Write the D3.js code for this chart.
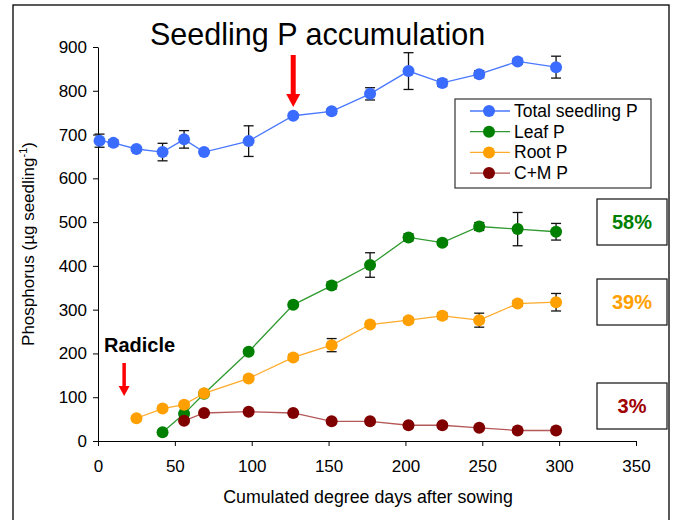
<!DOCTYPE html>
<html>
<head>
<meta charset="utf-8">
<script src="https://cdn.jsdelivr.net/npm/d3@7"></script>
<style>
  body { margin: 0; background: #fff; }
  svg { display: block; font-family: "Liberation Sans", Arial, sans-serif; }
  .axis text { font-size: 17px; fill: #000; }
  .axis path, .axis line { stroke: #000; }
</style>
</head>
<body>
<div id="chart"></div>
<script>
// data
const totalDays = [1, 10, 25, 42, 56, 69, 98, 127, 152, 177, 202, 224, 248, 273, 298];
const totalP    = [686, 681, 667, 660, 689, 660, 685, 743, 753, 793, 845, 818, 838, 867, 854];
const totalErr  = [15, 7, 5, 20, 20, 4, 35, 5, 6, 14, 42, 8, 8, 6, 25];

const leafDays = [42, 56, 69, 98, 127, 152, 177, 202, 224, 248, 273, 298];
const leafP    = [20, 62, 108, 204, 311, 355, 402, 465, 453, 490, 484, 478];
const leafErr  = [3, 4, 4, 5, 5, 8, 28, 8, 6, 9, 38, 19];

const rootDays = [25, 42, 56, 69, 98, 127, 152, 177, 202, 224, 248, 273, 298];
const rootP    = [52, 74, 83, 109, 143, 191, 219, 266, 276, 286, 276, 314, 317];
const rootErr  = [3, 3, 4, 4, 5, 6, 15, 5, 6, 7, 16, 6, 20];

const cmDays = [56, 69, 98, 127, 152, 177, 202, 224, 248, 273, 298];
const cmP    = [46, 64, 67, 64, 45, 45, 36, 36, 30, 24, 24];
const cmErr  = [3, 3, 3, 3, 3, 3, 3, 3, 3, 3, 3];

const seriesNames = ["Total seedling P", "Leaf P", "Root P", "C+M P"];
const markerColors = ["#3a6cff", "#008000", "#ffa000", "#800000"];
const lineColors = ["#4a78ff", "#2f9a2f", "#ffaa2a", "#b55858"];

const xTicks = [0, 50, 100, 150, 200, 250, 300, 350];
const yTicks = [0, 100, 200, 300, 400, 500, 600, 700, 800, 900];

const shares = ["58%", "39%", "3%"];
const shareColors = ["#008000", "#ffa000", "#a00000"];

const w = 675, h = 520;

const svg = d3.select("#chart")
  .append("svg")
  .attr("width", w)
  .attr("height", h);

svg.append("rect")
  .attr("x", 13).attr("y", 5)
  .attr("width", 656).attr("height", 530)
  .attr("fill", "#fff")
  .attr("stroke", "#000")
  .attr("stroke-width", 1.3);

const xScale = d3.scaleLinear().domain([0, 350]).range([98, 636]);
const yScale = d3.scaleLinear().domain([0, 900]).range([441, 47]);

const xAxis = d3.axisBottom(xScale)
  .tickValues(xTicks)
  .tickSizeInner(5)
  .tickSizeOuter(0)
  .tickPadding(14);

const yAxis = d3.axisLeft(yScale)
  .tickValues(yTicks)
  .tickSizeInner(5)
  .tickSizeOuter(0)
  .tickPadding(6);

svg.append("g")
  .attr("class", "axis")
  .attr("transform", "translate(0," + yScale(0) + ")")
  .call(xAxis);

svg.append("g")
  .attr("class", "axis")
  .attr("transform", "translate(" + xScale(0) + ",0)")
  .call(yAxis);

svg.append("text")
  .attr("x", 368)
  .attr("y", 503)
  .attr("text-anchor", "middle")
  .style("font-size", "17.8px")
  .text("Cumulated degree days after sowing");

let ylab = svg.append("text")
  .attr("transform", "translate(34," + 244 + ") rotate(-90)")
  .attr("text-anchor", "middle")
  .style("font-size", "17px");
ylab.append("tspan").text("Phosphorus (µg seedling");
ylab.append("tspan").attr("dy", -7).style("font-size", "11px").text("-1");
ylab.append("tspan").attr("dy", 7).text(")");

svg.append("text")
  .attr("x", 150)
  .attr("y", 45)
  .style("font-size", "30.5px")
  .text("Seedling P accumulation");

let all = [
  [totalDays, totalP, totalErr],
  [leafDays, leafP, leafErr],
  [rootDays, rootP, rootErr],
  [cmDays, cmP, cmErr]
];

let line = d3.line().x(d => xScale(d.x)).y(d => yScale(d.y));

all.forEach((s, k) => {
  let pts = s[0].map((x, i) => ({x: x, y: s[1][i], e: s[2][i]}));
  let g = svg.append("g");
  g.append("path")
    .datum(pts)
    .attr("d", line)
    .attr("fill", "none")
    .attr("stroke", lineColors[k])
    .attr("stroke-width", 1.3);
  let eb = g.selectAll(".err").data(pts).enter().append("g")
    .attr("stroke", "#111").attr("stroke-width", 1.3);
  eb.append("line")
    .attr("x1", d => xScale(d.x)).attr("x2", d => xScale(d.x))
    .attr("y1", d => yScale(d.y + d.e)).attr("y2", d => yScale(d.y - d.e));
  eb.append("line")
    .attr("x1", d => xScale(d.x) - 5).attr("x2", d => xScale(d.x) + 5)
    .attr("y1", d => yScale(d.y + d.e)).attr("y2", d => yScale(d.y + d.e));
  eb.append("line")
    .attr("x1", d => xScale(d.x) - 5).attr("x2", d => xScale(d.x) + 5)
    .attr("y1", d => yScale(d.y - d.e)).attr("y2", d => yScale(d.y - d.e));
  g.selectAll("circle").data(pts).enter().append("circle")
    .attr("cx", d => xScale(d.x))
    .attr("cy", d => yScale(d.y))
    .attr("r", 6)
    .attr("fill", markerColors[k]);
});

// legend
let legend = svg.append("g");
legend.append("rect")
  .attr("x", 455).attr("y", 99)
  .attr("width", 196).attr("height", 89)
  .attr("fill", "#fff")
  .attr("stroke", "#333").attr("stroke-width", 1.2);
seriesNames.forEach((name, i) => {
  let ly = 111 + i * 20.7;
  legend.append("line")
    .attr("x1", 470).attr("x2", 510).attr("y1", ly).attr("y2", ly)
    .attr("stroke", lineColors[i]).attr("stroke-width", 1.3);
  legend.append("circle")
    .attr("cx", 489).attr("cy", ly).attr("r", 6)
    .attr("fill", markerColors[i]);
  legend.append("text")
    .attr("x", 514).attr("y", ly + 6)
    .style("font-size", "17.5px")
    .text(name);
});

// share boxes
const boxTops = [199, 279, 383];
shares.forEach((s, i) => {
  svg.append("rect")
    .attr("x", 597).attr("y", boxTops[i])
    .attr("width", 70).attr("height", 46)
    .attr("fill", "#fff")
    .attr("stroke", "#222").attr("stroke-width", 1.3);
  svg.append("text")
    .attr("x", 632).attr("y", boxTops[i] + 30)
    .attr("text-anchor", "middle")
    .style("font-size", "20px")
    .style("font-weight", "bold")
    .attr("fill", shareColors[i])
    .text(s);
});

// arrows
let arrow = (x, y1, y2, sw, hw, hl) => {
  svg.append("line")
    .attr("x1", x).attr("x2", x).attr("y1", y1).attr("y2", y2 - hl)
    .attr("stroke", "#ff0000").attr("stroke-width", sw);
  svg.append("path")
    .attr("d", "M" + (x - hw / 2) + "," + (y2 - hl) + "L" + (x + hw / 2) + "," + (y2 - hl) + "L" + x + "," + y2 + "Z")
    .attr("fill", "#ff0000");
};
arrow(xScale(127), 55, 107, 5, 14, 13);
arrow(xScale(17), 363, 396, 3.5, 11, 10);

svg.append("text")
  .attr("x", 104).attr("y", 352)
  .style("font-size", "20px")
  .style("font-weight", "bold")
  .text("Radicle");
</script>
</body>
</html>
